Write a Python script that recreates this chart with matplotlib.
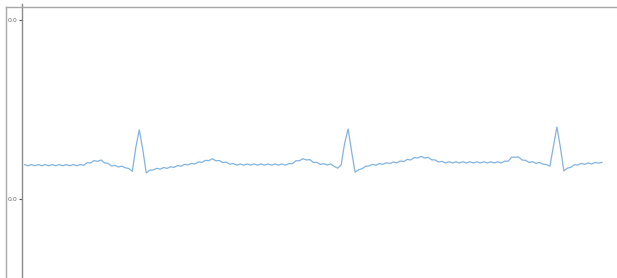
import numpy as np
import matplotlib
matplotlib.use("Agg")
import matplotlib.pyplot as plt
from matplotlib.lines import Line2D
from matplotlib.ticker import FormatStrFormatter

# ECG trace, values (in thousandths of the axis unit)
signal_milli = [
    8.7, 8.4, 8.7, 8.4, 8.7, 8.4, 8.7, 8.4, 8.7, 8.4,
    8.7, 8.4, 8.7, 8.4, 8.7, 8.4, 8.7, 8.5, 9.15, 9.1,
    9.7, 9.5, 9.85, 9.15, 9.0, 8.35, 8.5, 8.1, 8.3, 7.9,
    7.7, 7.0, 13.0, 17.4, 12.5, 6.6, 7.3, 7.35, 7.75, 7.55,
    7.95, 7.75, 8.15, 8.0, 8.45, 8.3, 8.75, 8.6, 9.0, 8.85,
    9.35, 9.25, 9.75, 9.7, 10.15, 9.65, 9.7, 9.2, 9.3, 8.8,
    8.95, 8.55, 8.85, 8.55, 8.85, 8.55, 8.85, 8.55, 8.85, 8.55,
    8.85, 8.55, 8.85, 8.55, 8.85, 8.55, 8.95, 8.9, 9.65, 9.65,
    10.15, 9.85, 9.95, 9.25, 9.25, 8.75, 8.9, 8.6, 8.85, 8.25,
    7.8, 8.6, 14.0, 17.6, 12.0, 6.8, 7.4, 7.65, 8.25, 8.35,
    8.75, 8.55, 8.95, 8.75, 9.15, 8.95, 9.35, 9.1, 9.6, 9.45,
    10.0, 9.85, 10.45, 10.35, 10.75, 10.35, 10.5, 9.9, 9.85, 9.35,
    9.5, 9.1, 9.4, 9.1, 9.4, 9.1, 9.4, 9.1, 9.4, 9.1,
    9.4, 9.1, 9.4, 9.1, 9.4, 9.1, 9.4, 9.1, 9.55, 9.55,
    10.55, 10.55, 10.6, 9.85, 9.75, 9.25, 9.4, 9.0, 9.25, 8.8,
    8.7, 8.3, 13.3, 18.1, 13.0, 7.1, 7.8, 8.0, 8.65, 8.6,
    9.0, 8.75, 9.1, 8.85, 9.25, 9.05, 9.25,
]
y_ticks = [0.0, 0.045]

signal = np.array(signal_milli) / 1000.0
samples = np.arange(len(signal))

fig = plt.figure(figsize=(6.17, 2.78), dpi=100)

# outer frame lines (top and left)
W, H = 617.0, 278.0
fig.add_artist(Line2D([5.5 / W, 1.0], [1 - 6.5 / H, 1 - 6.5 / H],
                      transform=fig.transFigure, color="#a8a8a8", lw=1.0))
fig.add_artist(Line2D([5.5 / W, 5.5 / W], [0.0, 1 - 6.5 / H],
                      transform=fig.transFigure, color="#a8a8a8", lw=1.0))

ax = fig.add_axes([22.5 / W, 0.0, 1 - 22.5 / W, 1 - 4 / H])
ax.plot(samples, signal, color="#82b3df", lw=0.9,
        solid_joinstyle="round", solid_capstyle="round")

ax.set_xlim(-0.56, 170.27)
ax.set_ylim(-0.0197, 0.0489)
ax.set_yticks(y_ticks)
ax.yaxis.set_major_formatter(FormatStrFormatter("%.1f"))
ax.set_xticks([])

for s in ["top", "right", "bottom"]:
    ax.spines[s].set_visible(False)
ax.spines["left"].set_color("#8a8a8a")
ax.spines["left"].set_linewidth(1.0)
ax.tick_params(axis="y", length=2.0, width=0.8, color="#555555",
               labelsize=4.5, labelcolor="#666666", pad=2.0)

fig.savefig("out.png", dpi=100)
